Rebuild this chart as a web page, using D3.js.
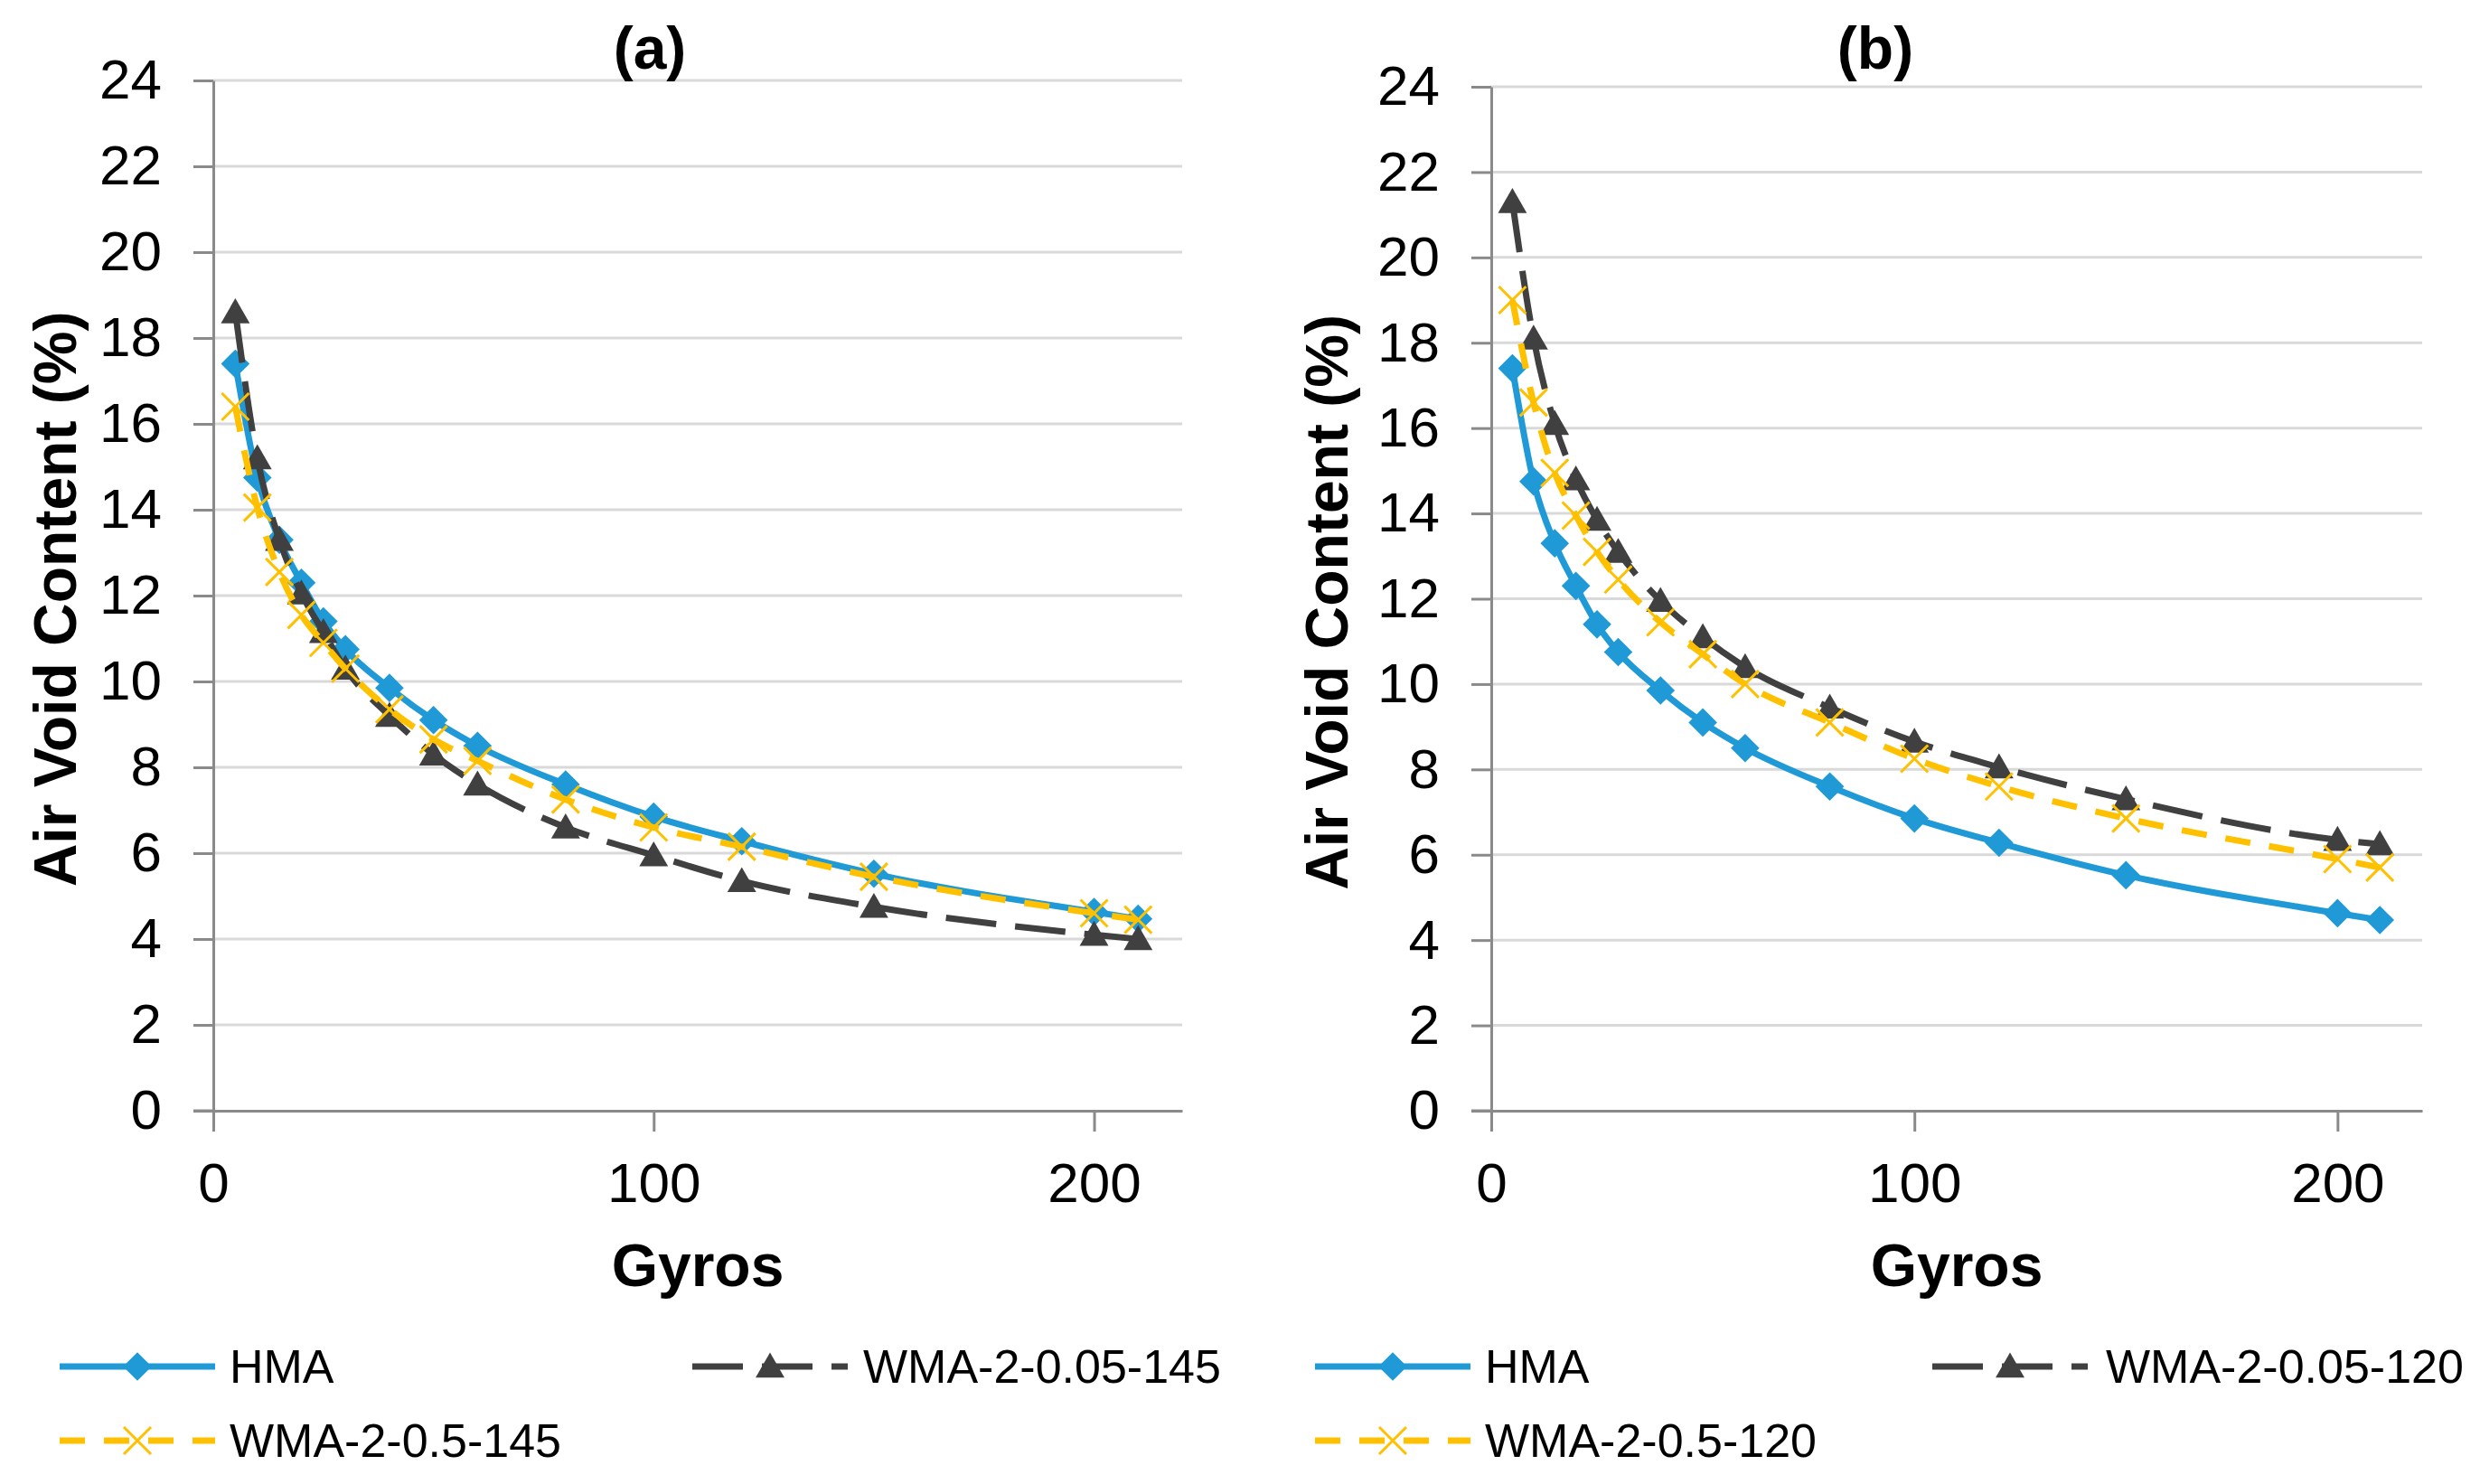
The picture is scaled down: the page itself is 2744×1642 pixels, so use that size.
<!DOCTYPE html>
<html>
<head>
<meta charset="utf-8">
<script src="https://cdn.jsdelivr.net/npm/d3@7"></script>
<style>
  body { margin: 0; background: #fff; }
  text { font-family: "Liberation Sans", Arial, sans-serif; }
</style>
</head>
<body>
<svg id="chart" width="2744" height="1642"></svg>
<script>
// gyration counts (x values, same for every series)
const gyros = [5, 10, 15, 20, 25, 30, 40, 50, 60, 80, 100, 120, 150, 200, 210];

// air void content (%)
const hma        = [17.4, 14.75, 13.3, 12.3, 11.4, 10.75, 9.85, 9.1, 8.5, 7.6, 6.85, 6.28, 5.52, 4.63, 4.47];
const wma005_145 = [18.6, 15.2, 13.3, 12.05, 11.15, 10.3, 9.2, 8.3, 7.6, 6.6, 5.95, 5.35, 4.75, 4.1, 4.0];
const wma05_145  = [16.4, 14.05, 12.55, 11.55, 10.9, 10.3, 9.35, 8.65, 8.15, 7.25, 6.6, 6.15, 5.45, 4.6, 4.45];
const wma005_120 = [21.3, 18.1, 16.1, 14.8, 13.85, 13.1, 11.95, 11.1, 10.4, 9.45, 8.65, 8.05, 7.3, 6.35, 6.25];
const wma05_120  = [19.0, 16.6, 14.95, 13.95, 13.1, 12.45, 11.45, 10.7, 10.0, 9.1, 8.25, 7.6, 6.85, 5.9, 5.7];

const namesA = ["HMA", "WMA-2-0.05-145", "WMA-2-0.5-145"];
const namesB = ["HMA", "WMA-2-0.05-120", "WMA-2-0.5-120"];

const yTicks = [0, 2, 4, 6, 8, 10, 12, 14, 16, 18, 20, 22, 24];
const xTicks = [0, 100, 200];

// series styles: solid blue diamonds, long-dash dark triangles, dash yellow crosses
const styles = [
  { color: "#1f9ad6", dash: null, marker: "diamond" },
  { color: "#404040", dash: "56,21", marker: "triangle" },
  { color: "#ffc000", dash: "28,21", marker: "x" }
];

const panels = [
  { title: "(a)", titleX: 719, left: 236, right: 1308, top: 89, bottom: 1229,
    series: [hma, wma005_145, wma05_145], names: namesA,
    yTitleX: 84, legendLine: [66, 766], legendText: [254, 955] },
  { title: "(b)", titleX: 2075, left: 1650, right: 2680, top: 96, bottom: 1229,
    series: [hma, wma005_120, wma05_120], names: namesB,
    yTitleX: 1491, legendLine: [1455, 2138], legendText: [1643, 2330] }
];

const svg = d3.select("#chart");
svg.append("rect").attr("width", 2744).attr("height", 1642).attr("fill", "#fff");

function drawMarker(g, kind, color, x, y) {
  if (kind === "diamond") {
    g.append("path")
      .attr("d", d3.symbol(d3.symbolSquare, 500)())
      .attr("transform", `translate(${x},${y}) rotate(45)`)
      .attr("fill", color);
  } else if (kind === "triangle") {
    g.append("path")
      .attr("d", d3.symbol(d3.symbolTriangle, 440)())
      .attr("transform", `translate(${x},${y + 3})`)
      .attr("fill", color);
  } else {
    g.append("path")
      .attr("d", "M-15,-15L15,15M15,-15L-15,15")
      .attr("transform", `translate(${x},${y})`)
      .attr("stroke", color).attr("stroke-width", 3).attr("fill", "none");
  }
}

panels.forEach(p => {
  const x = d3.scaleLinear().domain([0, 220]).range([p.left, p.right]);
  const y = d3.scaleLinear().domain([0, 24]).range([p.bottom, p.top]);
  const g = svg.append("g");

  // gridlines
  g.append("g").selectAll("line")
    .data(yTicks.filter(d => d > 0))
    .join("line")
    .attr("x1", p.left).attr("x2", p.right)
    .attr("y1", d => y(d)).attr("y2", d => y(d))
    .attr("stroke", "#d9d9d9").attr("stroke-width", 3);

  // y axis
  const ya = g.append("g").attr("transform", `translate(${p.left},0)`)
    .call(d3.axisLeft(y).tickValues(yTicks).tickSize(22).tickSizeOuter(0).tickPadding(35));
  ya.select(".domain").attr("stroke", "#8a8a8a").attr("stroke-width", 3);
  ya.selectAll(".tick line").attr("stroke", "#8a8a8a").attr("stroke-width", 3);
  ya.selectAll(".tick text").attr("font-size", 62).attr("fill", "#000")
    .attr("font-family", "'Liberation Sans', Arial, sans-serif");

  // x axis
  const xa = g.append("g").attr("transform", `translate(0,${p.bottom})`)
    .call(d3.axisBottom(x).tickValues(xTicks).tickSize(23).tickSizeOuter(0).tickPadding(34));
  xa.select(".domain").attr("stroke", "#8a8a8a").attr("stroke-width", 3);
  xa.selectAll(".tick line").attr("stroke", "#8a8a8a").attr("stroke-width", 3);
  xa.selectAll(".tick text").attr("font-size", 62).attr("fill", "#000")
    .attr("font-family", "'Liberation Sans', Arial, sans-serif");
  // extend x axis line left to the y tick length
  g.append("line").attr("x1", p.left - 22).attr("x2", p.left)
    .attr("y1", p.bottom).attr("y2", p.bottom)
    .attr("stroke", "#8a8a8a").attr("stroke-width", 3);

  // titles
  g.append("text").attr("x", p.titleX).attr("y", 76)
    .attr("text-anchor", "middle").attr("font-size", 66).attr("font-weight", "bold")
    .text(p.title);
  g.append("text").attr("x", (p.left + p.right) / 2).attr("y", 1423)
    .attr("text-anchor", "middle").attr("font-size", 66).attr("font-weight", "bold")
    .text("Gyros");
  g.append("text")
    .attr("transform", `translate(${p.yTitleX},${(p.top + p.bottom) / 2 + 4}) rotate(-90)`)
    .attr("text-anchor", "middle").attr("font-size", 66).attr("font-weight", "bold")
    .text("Air Void Content (%)");

  // series
  const line = d3.line()
    .x((d, i) => x(gyros[i]))
    .y(d => y(d))
    .curve(d3.curveMonotoneX);

  p.series.forEach((vals, si) => {
    const st = styles[si];
    const sg = g.append("g");
    sg.append("path")
      .datum(vals)
      .attr("d", line)
      .attr("fill", "none")
      .attr("stroke", st.color)
      .attr("stroke-width", 7)
      .attr("stroke-dasharray", st.dash);
    vals.forEach((v, i) => drawMarker(sg, st.marker, st.color, x(gyros[i]), y(v)));
  });

  // legend
  const legendPos = [
    { lx: p.legendLine[0], tx: p.legendText[0], y: 1512 },
    { lx: p.legendLine[1], tx: p.legendText[1], y: 1512 },
    { lx: p.legendLine[0], tx: p.legendText[0], y: 1594 }
  ];
  p.names.forEach((name, i) => {
    const st = styles[i];
    const lp = legendPos[i];
    const lg = g.append("g");
    lg.append("line")
      .attr("x1", lp.lx).attr("x2", lp.lx + 172)
      .attr("y1", lp.y).attr("y2", lp.y)
      .attr("stroke", st.color).attr("stroke-width", 7)
      .attr("stroke-dasharray", st.dash);
    drawMarker(lg, st.marker, st.color, lp.lx + 86, lp.y);
    lg.append("text").attr("x", lp.tx).attr("y", lp.y + 18)
      .attr("font-size", 52).attr("fill", "#000")
      .text(name);
  });
});
</script>
</body>
</html>
